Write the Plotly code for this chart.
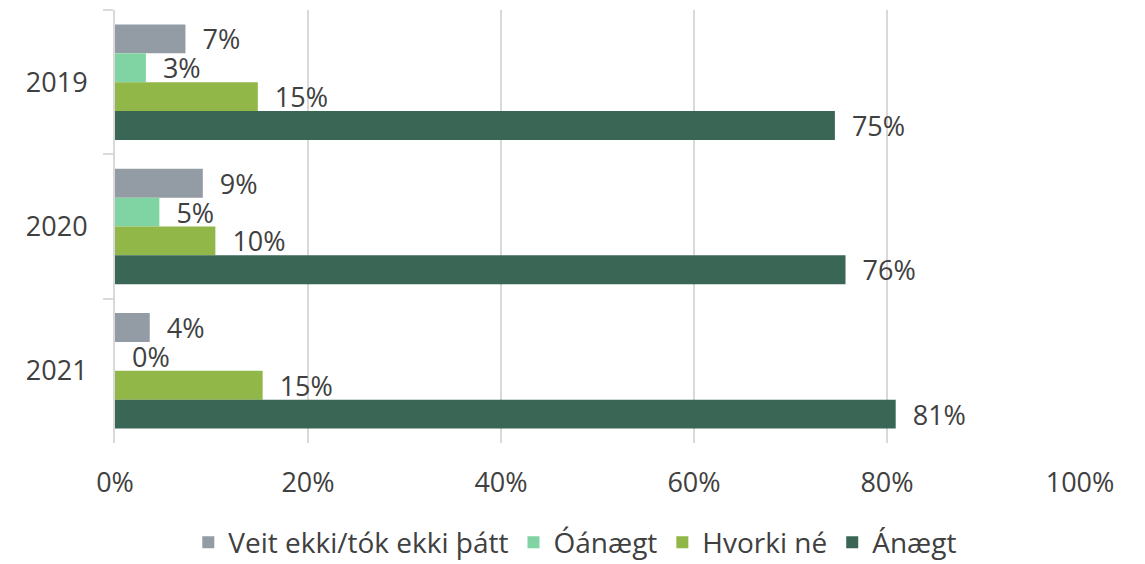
import plotly.graph_objects as go

years = ["2019", "2020", "2021"]
series_names = ["Veit ekki/tók ekki þátt", "Óánægt", "Hvorki né", "Ánægt"]
veit_ekki = [7.3, 9.1, 3.6]
oanaegt = [3.2, 4.6, 0.0]
hvorki = [14.8, 10.4, 15.3]
anaegt = [74.6, 75.7, 80.9]
labels_veit = ["7%", "9%", "4%"]
labels_oan = ["3%", "5%", "0%"]
labels_hvorki = ["15%", "10%", "15%"]
labels_anaegt = ["75%", "76%", "81%"]
x_tickvals = [0, 20, 40, 60, 80, 100]
x_ticktext = ["0%", "20%", "40%", "60%", "80%", "100%"]

colors = ["#939ba5", "#80d4a4", "#90b747", "#3a6656"]
values = [veit_ekki, oanaegt, hvorki, anaegt]
labels = [labels_veit, labels_oan, labels_hvorki, labels_anaegt]

FONT = "Open Sans"
TXT = "#404040"
FS = 27

fig = go.Figure()
for name, vals, lab, col in zip(series_names, values, labels, colors):
    fig.add_trace(go.Bar(
        y=years, x=vals, name=name, orientation="h",
        marker=dict(color=col, line=dict(width=0)),
        text=lab, texttemplate="\u00a0\u00a0%{text}",
        textposition="outside", cliponaxis=False, constraintext="none",
        textfont=dict(family=FONT, size=FS, color=TXT),
        hoverinfo="skip",
    ))

fig.update_layout(
    width=1145, height=564,
    barmode="group", bargap=0.2, bargroupgap=0,
    plot_bgcolor="white", paper_bgcolor="white",
    margin=dict(l=115, r=65, t=10, b=121, autoexpand=False),
    font=dict(family=FONT, size=FS, color=TXT),
    showlegend=True,
    legend=dict(orientation="h", x=0.477, xanchor="center", y=-0.172, yanchor="top",
                font=dict(family=FONT, size=28, color=TXT), traceorder="normal",
                itemwidth=30),
    uniformtext=dict(mode=False),
)
fig.update_xaxes(range=[0, 100], tickvals=x_tickvals, ticktext=x_ticktext,
                 showgrid=True, gridcolor="#d9d9d9", gridwidth=2,
                 zeroline=False, showline=False, ticks="", automargin=False,
                 ticklabelstandoff=21,
                 tickfont=dict(family=FONT, size=FS, color=TXT))
fig.update_yaxes(autorange="reversed", showline=True, linecolor="#d9d9d9", linewidth=2,
                 ticks="outside", tickson="boundaries", ticklen=10, tickcolor="#d9d9d9",
                 tickwidth=2, showgrid=False, automargin=False,
                 ticklabelstandoff=20,
                 tickfont=dict(family=FONT, size=FS, color=TXT))

fig.write_html("out.html", config={"displayModeBar": False},
               post_script="document.body.style.margin='0';document.body.style.overflow='hidden';")
